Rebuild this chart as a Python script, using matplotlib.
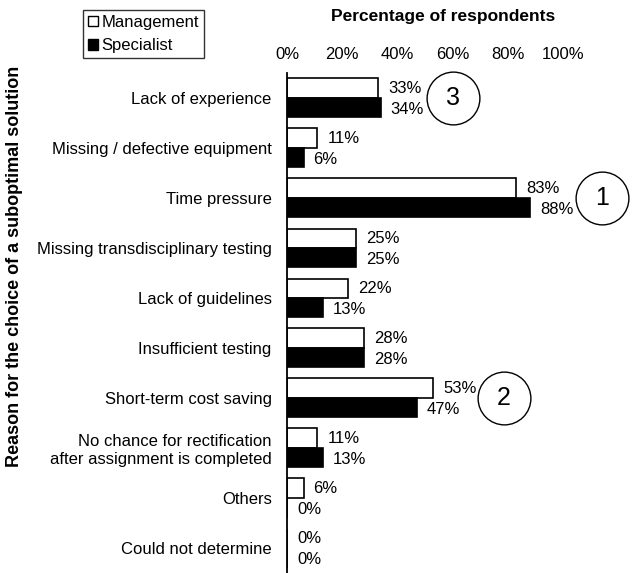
import matplotlib.pyplot as plt
import numpy as np
from matplotlib.patches import Patch

plt.rcParams['font.family'] = ['Liberation Sans', 'DejaVu Sans']

categories = ['Lack of experience', 'Missing / defective equipment', 'Time pressure',
              'Missing transdisciplinary testing', 'Lack of guidelines', 'Insufficient testing',
              'Short-term cost saving',
              'No chance for rectification\nafter assignment is completed',
              'Others', 'Could not determine']
management = [33, 11, 83, 25, 22, 28, 53, 11, 6, 0]
specialist = [34, 6, 88, 25, 13, 28, 47, 13, 0, 0]
# ranking circles: category index -> (label, x position in %)
ranks = {0: ('3', 60.0), 2: ('1', 114.0), 6: ('2', 78.6)}

fig = plt.figure(figsize=(6.33, 5.73), dpi=100)
ax = fig.add_axes([287 / 633, 0.0, 276 / 633, 500 / 573])

y = np.arange(len(categories))
h = 0.39
ax.barh(y - h / 2, management, h, color='white', edgecolor='black', linewidth=1.2)
ax.barh(y + h / 2, specialist, h, color='black', edgecolor='black', linewidth=1.2)

fs = 12
for i in range(len(categories)):
    ax.text(management[i] + 3.6, y[i] - h / 2, f'{management[i]}%', va='center', ha='left', fontsize=fs)
    ax.text(specialist[i] + 3.6, y[i] + h / 2 + 0.03, f'{specialist[i]}%', va='center', ha='left', fontsize=fs)

for i, (r, xr) in ranks.items():
    ax.plot(xr, y[i], 'o', markersize=38, mfc='white', mec='black', mew=1, clip_on=False, zorder=3)
    ax.text(xr, y[i], r, ha='center', va='center', fontsize=18, zorder=4)

ax.set_xlim(0, 100)
ax.set_ylim(9.5, -0.5)
ax.set_yticks(y)
ax.set_yticklabels(categories, fontsize=fs)
ax.set_xticks([0, 20, 40, 60, 80, 100])
ax.set_xticklabels([f'{v}%' for v in range(0, 101, 20)], fontsize=fs)
ax.xaxis.tick_top()
ax.tick_params(axis='y', length=0, pad=11)
ax.tick_params(axis='x', length=0, pad=8)
for s in ['top', 'right', 'bottom']:
    ax.spines[s].set_visible(False)
ax.spines['left'].set_linewidth(1.3)

fig.text(443 / 633, 1 - 16 / 573, 'Percentage of respondents', ha='center', va='center',
         fontsize=12.5, fontweight='bold')
fig.text(15 / 633, 1 - 266 / 573, 'Reason for the choice of a suboptimal solution', rotation=90,
         ha='center', va='center', fontsize=13, fontweight='bold')

handles = [Patch(facecolor='white', edgecolor='black', label='Management'),
           Patch(facecolor='black', edgecolor='black', label='Specialist')]
fig.legend(handles=handles, loc='upper left', bbox_to_anchor=(83 / 633, 1 - 10 / 573),
           fontsize=fs, frameon=True, fancybox=False, edgecolor='black',
           handlelength=0.6, handleheight=0.6, handletextpad=0.2, borderpad=0.3,
           labelspacing=0.5, borderaxespad=0)

fig.savefig('out.png', dpi=100)
